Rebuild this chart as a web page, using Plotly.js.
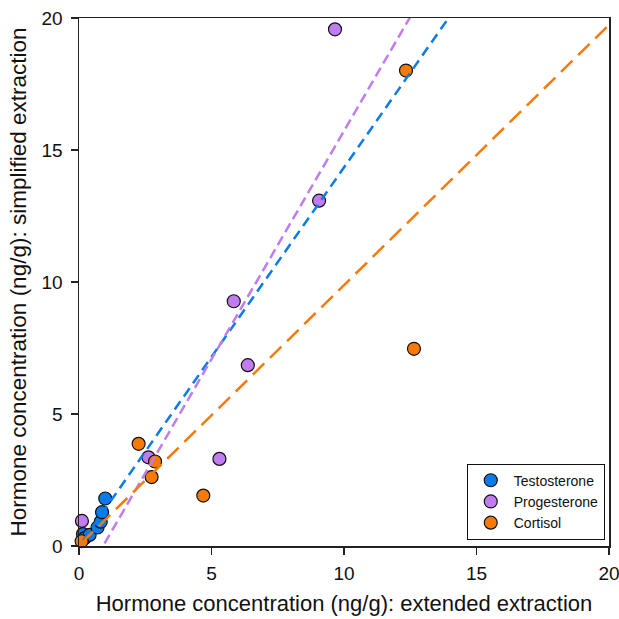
<!DOCTYPE html>
<html>
<head>
<meta charset="utf-8">
<script src="https://cdn.plot.ly/plotly-3.0.1.min.js"></script>
<style>html,body{margin:0;padding:0;background:#fff;}#chart{width:619px;height:619px;}</style>
</head>
<body>
<div id="chart"></div>
<script>
// Data (x: extended extraction, y: simplified extraction, ng/g)
var seriesNames = ["Testosterone", "Progesterone", "Cortisol"];
var testoX = [0.15, 0.22, 0.40, 0.70, 0.82, 0.87, 0.99];
var testoY = [0.45, 0.30, 0.42, 0.70, 0.92, 1.28, 1.80];
var progX = [0.11, 2.62, 5.30, 5.84, 6.37, 9.06, 9.66];
var progY = [0.95, 3.36, 3.30, 9.27, 6.85, 13.08, 19.57];
var cortX = [0.10, 2.25, 2.74, 2.87, 4.69, 12.34, 12.64];
var cortY = [0.18, 3.87, 2.61, 3.20, 1.91, 18.01, 7.47];
var xTicks = [0, 5, 10, 15, 20];
var yTicks = [0, 5, 10, 15, 20];

var colors = ["#0a7be8", "#c07cf0", "#f57a0a"];
var axisMax = 20;

function fit(xs, ys) {
  var n = xs.length, mx = 0, my = 0;
  for (var i = 0; i < n; i++) { mx += xs[i]; my += ys[i]; }
  mx /= n; my /= n;
  var sxx = 0, sxy = 0;
  for (var j = 0; j < n; j++) { sxx += (xs[j]-mx)*(xs[j]-mx); sxy += (xs[j]-mx)*(ys[j]-my); }
  var b = sxy / sxx, a = my - b * mx;
  var x0 = Math.min.apply(null, xs);
  return {x: [x0, axisMax], y: [a + b * x0, a + b * axisMax]};
}

var sets = [[testoX, testoY], [progX, progY], [cortX, cortY]];
var dashes = ["10px,6px", "10px,5px", "16px,8px"];
var traces = [];
sets.forEach(function(s, i) {
  traces.push({
    x: s[0], y: s[1], type: "scatter", mode: "markers", name: seriesNames[i],
    cliponaxis: false,
    marker: {size: 13, color: colors[i], line: {color: "#111", width: 1.2}}
  });
});
sets.forEach(function(s, i) {
  var f = fit(s[0], s[1]);
  traces.push({
    x: f.x, y: f.y, type: "scatter", mode: "lines", showlegend: false, hoverinfo: "skip",
    line: {color: colors[i], width: 2.5, dash: dashes[i]}
  });
});

var fontFam = "Liberation Sans, Arial, sans-serif";
var layout = {
  width: 619, height: 619,
  margin: {l: 79, r: 10, t: 18, b: 73, pad: 0},
  paper_bgcolor: "#fff", plot_bgcolor: "#fff",
  font: {family: fontFam, color: "#111", size: 19},
  showlegend: true,
  xaxis: {
    range: [0, 20], tickvals: xTicks, ticktext: xTicks.map(String),
    showgrid: false, zeroline: false, showline: true, linecolor: "#222", linewidth: 1.5,
    mirror: true, ticks: "outside", ticklen: 7, tickwidth: 1.2, tickcolor: "#222",
    ticklabelstandoff: 3, ticklabeloverflow: "allow",
    tickfont: {size: 19, family: fontFam},
    title: {text: "Hormone concentration (ng/g): extended extraction", font: {size: 22, family: fontFam}, standoff: 12}
  },
  yaxis: {
    range: [0, 20], tickvals: yTicks, ticktext: yTicks.map(String),
    showgrid: false, zeroline: false, showline: true, linecolor: "#222", linewidth: 1.5,
    mirror: true, ticks: "outside", ticklen: 7, tickwidth: 1.2, tickcolor: "#222",
    ticklabelstandoff: 4, ticklabeloverflow: "allow",
    tickfont: {size: 19, family: fontFam},
    title: {text: "Hormone concentration (ng/g): simplified extraction", font: {size: 22.5, family: fontFam}, standoff: 8}
  },
  legend: {
    x: 0.992, xanchor: "right", y: 0.012, yanchor: "bottom",
    bgcolor: "#fff", bordercolor: "#111", borderwidth: 1,
    font: {size: 14, family: fontFam, color: "#111"},
    itemwidth: 36, tracegroupgap: 0
  }
};

Plotly.newPlot("chart", traces, layout, {staticPlot: true, displayModeBar: false});
</script>
</body>
</html>
